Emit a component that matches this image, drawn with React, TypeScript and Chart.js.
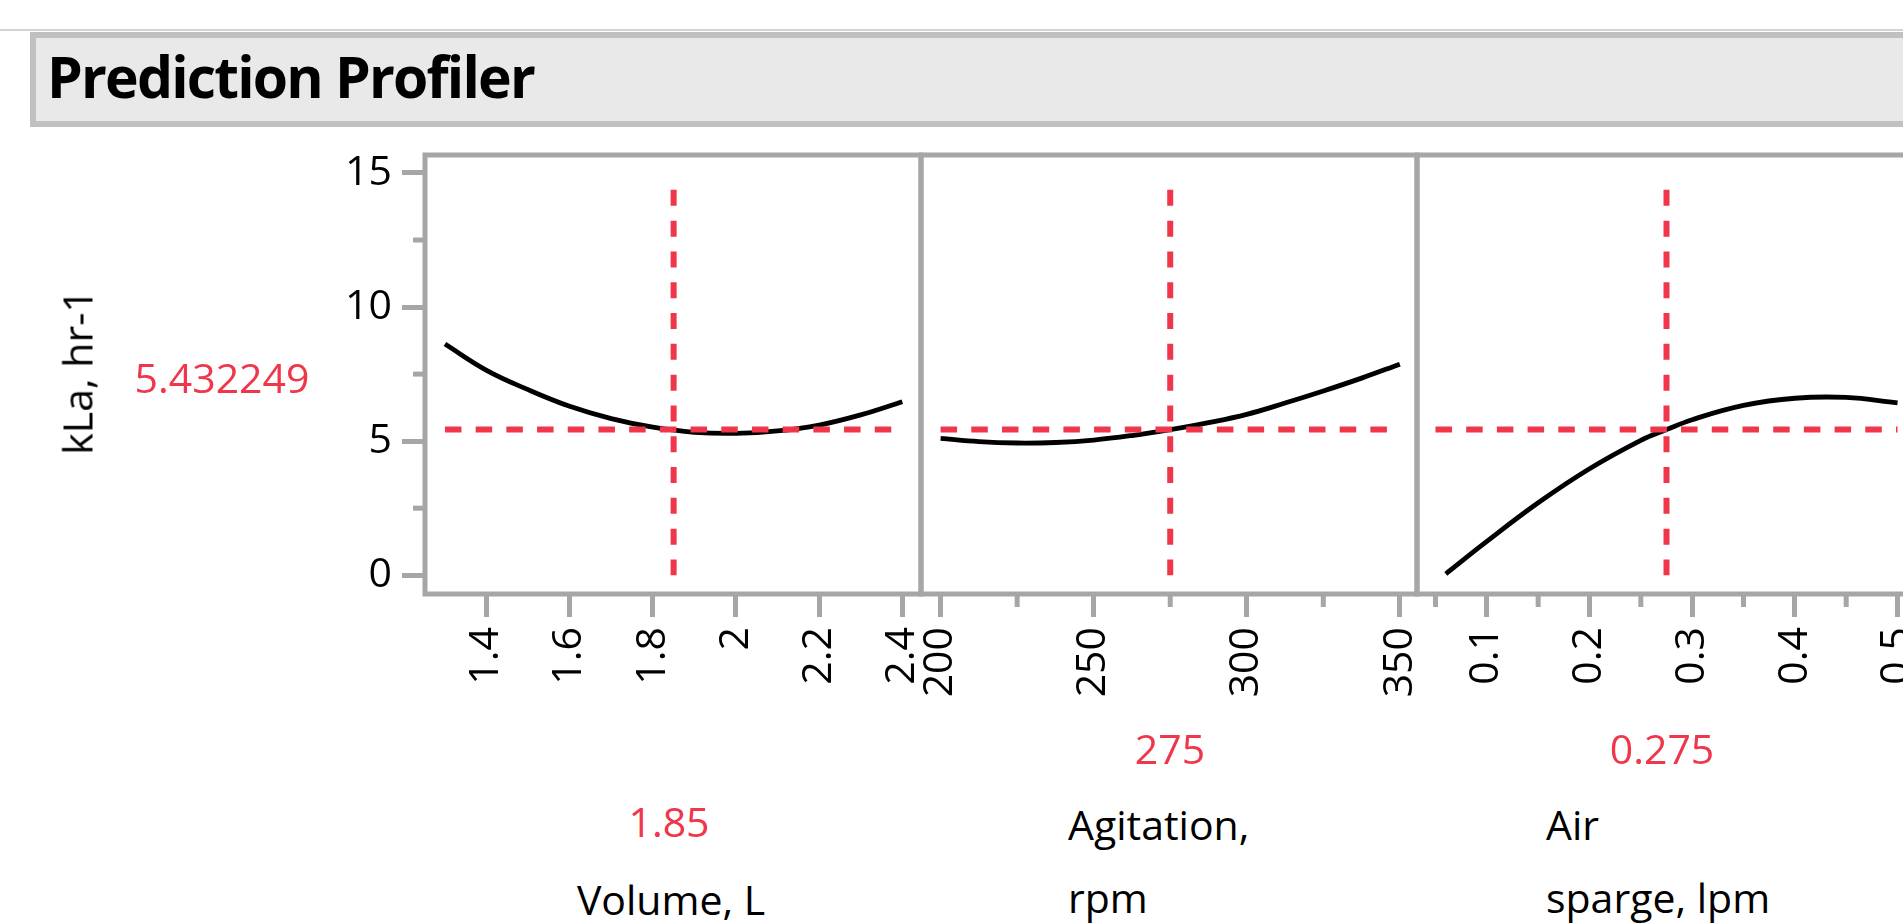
import React, { useEffect, useRef } from 'react';
import { Chart, registerables } from 'chart.js';

Chart.register(...registerables);

// ---------- data ----------
const RESPONSE_NAME = 'kLa, hr-1';
const RESPONSE_CURRENT = 5.432249;
const RESPONSE_TEXT = '5.432249';
const Y_MIN = -0.7;
const Y_MAX = 15.67;
const Y_TICKS = [0, 5, 10, 15];
const Y_MINOR_TICKS = [2.5, 7.5, 12.5];
const REF_LINE_TOP = 14.37;

const VOLUME_X = [1.3, 1.4, 1.5, 1.6, 1.7, 1.8, 1.9, 2.0, 2.1, 2.2, 2.3, 2.4];
const VOLUME_KLA = [8.62, 7.64, 6.92, 6.3, 5.84, 5.52, 5.33, 5.29, 5.38, 5.6, 5.98, 6.47];
const VOLUME_TICKS = [1.4, 1.6, 1.8, 2.0, 2.2, 2.4];
const VOLUME_MINOR_TICKS: number[] = [];
const VOLUME_AXIS = [1.252, 2.445];
const VOLUME_RANGE = [1.3, 2.4];
const VOLUME_CURRENT = 1.85;
const VOLUME_TEXT = '1.85';
const VOLUME_LABEL = ['Volume, L'];

const AGIT_X = [200, 212.5, 225, 237.5, 250, 262.5, 275, 287.5, 300, 312.5, 325, 337.5, 350];
const AGIT_KLA = [5.1, 4.98, 4.93, 4.95, 5.04, 5.21, 5.43, 5.69, 6.0, 6.42, 6.87, 7.35, 7.87];
const AGIT_TICKS = [200, 250, 300, 350];
const AGIT_MINOR_TICKS = [225, 275, 325];
const AGIT_AXIS = [193.6, 355.6];
const AGIT_RANGE = [200, 350];
const AGIT_CURRENT = 275;
const AGIT_TEXT = '275';
const AGIT_LABEL = ['Agitation,', 'rpm'];

const AIR_X = [0.06, 0.1, 0.15, 0.2, 0.25, 0.275, 0.3, 0.35, 0.4, 0.45, 0.5];
const AIR_KLA = [0.05, 1.26, 2.7, 3.97, 5.03, 5.43, 5.8, 6.33, 6.6, 6.63, 6.43];
const AIR_TICKS = [0.1, 0.2, 0.3, 0.4, 0.5];
const AIR_MINOR_TICKS = [0.05, 0.15, 0.25, 0.35, 0.45];
const AIR_AXIS = [0.032, 0.518];
const AIR_RANGE = [0.05, 0.5];
const AIR_CURRENT = 0.275;
const AIR_TEXT = '0.275';
const AIR_LABEL = ['Air', 'sparge, lpm'];

// ---------- styles ----------
const GREY = '#a6a6a6';
const RED = '#f0364a';
const FONT = "'Open Sans', 'Noto Sans', 'DejaVu Sans', sans-serif";
const FONT_SIZE = 41;

const fmt = (v: number) => parseFloat(Number(v).toFixed(4)).toString();

const framePlugin = {
  id: 'profilerFrame',
  afterDraw(chart: any, _args: any, opts: any) {
    const { ctx, chartArea: a, scales } = chart;
    ctx.save();
    ctx.strokeStyle = GREY;
    ctx.lineWidth = 5;
    ctx.strokeRect(a.left, a.top, a.right - a.left, a.bottom - a.top);
    (opts.x || []).forEach((v: number) => {
      const px = scales.x.getPixelForValue(v);
      ctx.beginPath();
      ctx.moveTo(px, a.bottom);
      ctx.lineTo(px, a.bottom + 13);
      ctx.stroke();
    });
    (opts.y || []).forEach((v: number) => {
      const py = scales.y.getPixelForValue(v);
      ctx.beginPath();
      ctx.moveTo(a.left, py);
      ctx.lineTo(a.left - 12, py);
      ctx.stroke();
    });
    ctx.restore();
  },
};

type PanelProps = {
  left: number;
  top: number;
  width: number;
  height: number;
  pad: { left: number; right: number; top: number; bottom: number };
  showY: boolean;
  axis: number[];
  range: number[];
  xs: number[];
  ys: number[];
  ticks: number[];
  minor: number[];
  current: number;
};

function Panel(p: PanelProps) {
  const ref = useRef<HTMLCanvasElement | null>(null);
  useEffect(() => {
    if (!ref.current) return;
    const tickFont = { family: FONT, size: FONT_SIZE };
    const chart = new Chart(ref.current, {
      type: 'line',
      data: {
        datasets: [
          {
            data: [
              { x: p.range[0], y: RESPONSE_CURRENT },
              { x: p.range[1], y: RESPONSE_CURRENT },
            ],
            borderColor: RED,
            borderWidth: 6,
            borderDash: [16.5, 14.2],
            pointRadius: 0,
            tension: 0,
            order: 0,
          },
          {
            data: [
              { x: p.current, y: REF_LINE_TOP },
              { x: p.current, y: 0 },
            ],
            borderColor: RED,
            borderWidth: 6,
            borderDash: [16, 14.8],
            pointRadius: 0,
            tension: 0,
            order: 0,
          },
          {
            data: p.xs.map((x, i) => ({ x, y: p.ys[i] })),
            borderColor: '#000',
            borderWidth: 4.8,
            pointRadius: 0,
            tension: 0.4,
            order: 1,
          },
        ],
      },
      options: {
        animation: false,
        responsive: false,
        maintainAspectRatio: false,
        events: [],
        layout: { padding: p.pad },
        plugins: {
          legend: { display: false },
          tooltip: { enabled: false },
          profilerFrame: { x: p.minor, y: p.showY ? Y_MINOR_TICKS : [] },
        } as any,
        scales: {
          x: {
            type: 'linear',
            min: p.axis[0],
            max: p.axis[1],
            afterBuildTicks: (s: any) => {
              s.ticks = p.ticks.map((v) => ({ value: v }));
            },
            afterFit: (s: any) => {
              s.height = 110;
              s.paddingLeft = 0;
              s.paddingRight = 0;
              s.paddingTop = 0;
              s.paddingBottom = 0;
            },
            border: { display: false },
            grid: {
              drawOnChartArea: false,
              drawTicks: true,
              tickLength: 23,
              tickWidth: 5,
              tickColor: GREY,
            },
            ticks: {
              autoSkip: false,
              minRotation: 90,
              maxRotation: 90,
              padding: 10,
              color: '#000',
              font: tickFont,
              callback: (v: any) => fmt(v),
            },
          },
          y: {
            type: 'linear',
            display: p.showY,
            min: Y_MIN,
            max: Y_MAX,
            afterBuildTicks: (s: any) => {
              s.ticks = Y_TICKS.map((v) => ({ value: v }));
            },
            afterFit: (s: any) => {
              if (p.showY) s.width = 425;
              s.paddingLeft = 0;
              s.paddingRight = 0;
              s.paddingTop = 0;
              s.paddingBottom = 0;
            },
            border: { display: false },
            grid: {
              drawOnChartArea: false,
              drawTicks: true,
              tickLength: 23,
              tickWidth: 5,
              tickColor: GREY,
            },
            ticks: {
              autoSkip: false,
              padding: 10,
              color: '#000',
              font: tickFont,
              callback: (v: any) => fmt(v),
            },
          },
        },
      } as any,
      plugins: [framePlugin],
    });
    return () => chart.destroy();
  }, []);
  return (
    <canvas
      ref={ref}
      width={p.width}
      height={p.height}
      style={{ position: 'absolute', left: p.left, top: p.top, width: p.width, height: p.height }}
    />
  );
}

function Txt({ x, base, text, color = '#000', align = 'center' }: any) {
  const style: any = {
    position: 'absolute',
    top: base - 52.9,
    fontSize: FONT_SIZE,
    lineHeight: '74px',
    color,
    whiteSpace: 'nowrap',
  };
  if (align === 'center') {
    style.left = x - 300;
    style.width = 600;
    style.textAlign = 'center';
  } else {
    style.left = x;
  }
  return <div style={style}>{text}</div>;
}

const PAD_TOP = 55;
const PAD_BOTTOM = 26;

export default function App() {
  useEffect(() => {
    document.body.style.margin = '0';
    document.body.style.overflow = 'hidden';
  }, []);
  return (
    <div
      style={{
        position: 'fixed',
        left: 0,
        top: 0,
        width: 1903,
        height: 924,
        overflow: 'hidden',
        background: '#fff',
        fontFamily: FONT,
        color: '#000',
      }}
    >
      <div style={{ position: 'absolute', left: 0, top: 29, width: '100%', height: 2, background: '#d2d2d2' }} />
      <div
        style={{
          position: 'absolute',
          left: 30,
          top: 32,
          width: 1960,
          height: 95,
          boxSizing: 'border-box',
          border: '6px solid #c0c0c0',
          background: '#e9e9e9',
        }}
      />
      <div
        style={{
          position: 'absolute',
          left: 47,
          top: 48,
          fontSize: 57,
          fontWeight: 700,
          lineHeight: '57px',
          letterSpacing: '-1.8px',
          whiteSpace: 'nowrap',
        }}
      >
        Prediction Profiler
      </div>

      <Panel
        left={0}
        top={100}
        width={940}
        height={630}
        pad={{ left: 0, right: 19, top: PAD_TOP, bottom: PAD_BOTTOM }}
        showY={true}
        axis={VOLUME_AXIS}
        range={VOLUME_RANGE}
        xs={VOLUME_X}
        ys={VOLUME_KLA}
        ticks={VOLUME_TICKS}
        minor={VOLUME_MINOR_TICKS}
        current={VOLUME_CURRENT}
      />
      <Panel
        left={900}
        top={100}
        width={540}
        height={630}
        pad={{ left: 21, right: 23, top: PAD_TOP, bottom: PAD_BOTTOM }}
        showY={false}
        axis={AGIT_AXIS}
        range={AGIT_RANGE}
        xs={AGIT_X}
        ys={AGIT_KLA}
        ticks={AGIT_TICKS}
        minor={AGIT_MINOR_TICKS}
        current={AGIT_CURRENT}
      />
      <Panel
        left={1396}
        top={100}
        width={540}
        height={630}
        pad={{ left: 21, right: 20, top: PAD_TOP, bottom: PAD_BOTTOM }}
        showY={false}
        axis={AIR_AXIS}
        range={AIR_RANGE}
        xs={AIR_X}
        ys={AIR_KLA}
        ticks={AIR_TICKS}
        minor={AIR_MINOR_TICKS}
        current={AIR_CURRENT}
      />

      <div
        style={{
          position: 'absolute',
          left: 77,
          top: 372,
          transform: 'translate(-50%, -50%) rotate(-90deg)',
          fontSize: FONT_SIZE,
          lineHeight: '41px',
          whiteSpace: 'nowrap',
        }}
      >
        {RESPONSE_NAME}
      </div>
      <Txt x={222} base={393} text={RESPONSE_TEXT} color={RED} />

      <Txt x={669} base={837} text={VOLUME_TEXT} color={RED} />
      <Txt x={671} base={915} text={VOLUME_LABEL[0]} />

      <Txt x={1170} base={764} text={AGIT_TEXT} color={RED} />
      <Txt x={1068} base={840} text={AGIT_LABEL[0]} align="left" />
      <Txt x={1068} base={913} text={AGIT_LABEL[1]} align="left" />

      <Txt x={1662} base={764} text={AIR_TEXT} color={RED} />
      <Txt x={1546} base={840} text={AIR_LABEL[0]} align="left" />
      <Txt x={1546} base={913} text={AIR_LABEL[1]} align="left" />
    </div>
  );
}
